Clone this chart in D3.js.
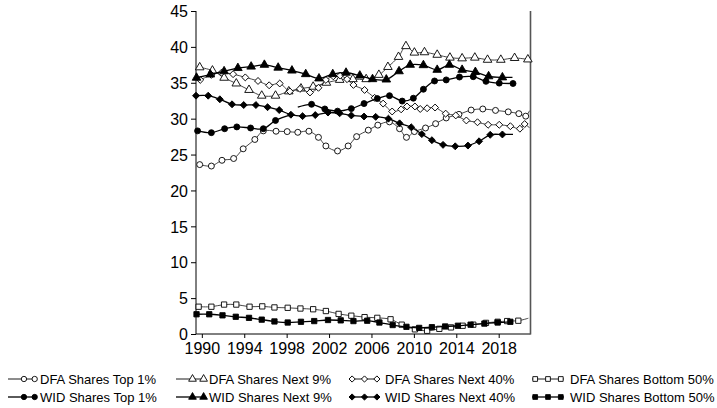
<!DOCTYPE html>
<html>
<head>
<meta charset="utf-8">
<script src="https://cdn.jsdelivr.net/npm/d3@7"></script>
<style>
  body { margin: 0; background: #fff; }
  svg { display: block; font-family: Arial, "Liberation Sans", sans-serif; }
</style>
</head>
<body>
<svg id="chart" width="717" height="408"></svg>
<script>
// marker points: [year, share %]
const dfaTop1 = [[1989.8,23.6],[1990.9,23.4],[1991.9,24.2],[1993.0,24.45],[1993.9,25.8],[1995.0,27.1],[1995.8,28.3],[1997.0,28.25],[1998.05,28.2],[1999.05,28.1],[2000.1,28.25],[2001.0,27.4],[2001.7,26.2],[2002.8,25.5],[2003.8,26.2],[2004.6,27.5],[2005.7,28.4],[2006.6,29.1],[2007.7,29.55],[2008.65,28.6],[2009.3,27.4],[2010.05,28.2],[2011.1,28.7],[2012.05,29.3],[2013.05,30.1],[2014.25,30.6],[2015.4,31.2],[2016.5,31.35],[2017.7,31.15],[2018.9,30.95],[2019.9,30.7],[2020.55,30.35]]
const dfaTop1End = [2020.9, 31.1]

const dfaNext9 = [[1989.8,37.15],[1991.0,36.7],[1992.1,35.7],[1993.25,34.9],[1994.45,34.0],[1995.65,33.2],[1996.95,33.2],[1998.2,33.8],[1999.35,34.2],[2000.5,34.45],[2001.75,35.0],[2003.0,35.4],[2004.25,35.5],[2005.5,35.5],[2006.7,36.1],[2007.55,37.2],[2008.55,38.6],[2009.25,40.1],[2010.05,39.2],[2011.0,39.25],[2012.2,38.9],[2013.4,38.5],[2014.55,38.4],[2015.75,38.5],[2016.95,38.2],[2018.2,38.2],[2019.5,38.45],[2020.75,38.25]]

const dfaNext40 = [[1989.85,35.4],[1990.9,36.1],[1991.85,36.4],[1992.95,36.2],[1994.1,35.75],[1995.3,35.25],[1996.35,34.65],[1997.35,34.9],[1998.3,33.8],[1999.25,34.15],[2000.2,33.65],[2001.0,34.3],[2001.7,35.4],[2002.4,35.9],[2003.05,36.0],[2003.7,35.5],[2004.3,34.7],[2005.35,34.0],[2006.3,32.9],[2007.1,32.1],[2007.95,31.0],[2008.8,31.3],[2009.35,31.7],[2010.1,31.7],[2010.6,31.35],[2011.25,31.45],[2012.0,31.55],[2013.0,30.7],[2013.95,30.45],[2014.95,29.75],[2016.0,29.5],[2017.0,29.15],[2018.05,29.15],[2019.1,28.95],[2020.0,28.6],[2020.45,29.25]]
const dfaNext40End = [2020.9, 28.7]

const dfaBottom50 = [[1989.7,3.8],[1990.9,3.8],[1992.1,4.1],[1993.25,4.1],[1994.5,3.8],[1995.7,3.85],[1996.85,3.7],[1998.1,3.65],[1999.3,3.55],[2000.5,3.45],[2001.7,3.2],[2002.9,2.8],[2004.1,2.55],[2005.35,2.35],[2006.55,2.25],[2007.8,2.05],[2008.85,1.3],[2010.1,0.65],[2011.25,0.45],[2012.4,0.72],[2013.5,0.92],[2014.6,1.15],[2015.6,1.3],[2016.8,1.55],[2017.9,1.7],[2018.8,1.8],[2019.85,1.85]]
const dfaBottom50End = [2020.8, 2.2]

// WID top 1% has a break around 1998-99
const widTop1Early = [[1989.6,28.3],[1990.9,28.05],[1992.15,28.6],[1993.3,28.85],[1994.6,28.7],[1995.8,28.6],[1996.95,29.75]]
const widTop1EarlyEnd = [1998.5, 30.55]
const widTop1LateStart = [1999.05, 31.6]
const widTop1Late = [[2000.35,32.0],[2001.6,31.35],[2002.8,31.05],[2004.1,31.4],[2005.3,32.1],[2006.55,32.8],[2007.7,33.2],[2008.9,32.45],[2009.95,32.85],[2010.9,34.1],[2011.95,35.25],[2013.05,35.4],[2014.3,35.8],[2015.6,35.85],[2016.8,35.2],[2018.05,34.95],[2019.35,34.9]]

const widNext9 = [[1989.5,35.7],[1990.8,36.15],[1992.1,36.6],[1993.4,37.05],[1994.65,37.25],[1995.9,37.5],[1997.2,37.1],[1998.5,36.7],[1999.8,36.2],[2001.05,35.6],[2002.35,36.2],[2003.6,36.4],[2004.9,36.0],[2006.1,35.5],[2007.4,35.45],[2008.6,36.6],[2009.65,37.5],[2010.9,37.45],[2012.2,36.8],[2013.35,37.5],[2014.55,36.8],[2015.8,36.5],[2017.05,35.9],[2018.35,35.75]]
const widNext9End = [2019.3, 35.75]

const widNext40 = [[1989.45,33.2],[1990.6,33.2],[1991.7,32.7],[1992.85,32.0],[1993.95,31.9],[1995.1,31.9],[1996.2,31.6],[1997.3,31.2],[1998.4,30.55],[1999.5,30.35],[2000.7,30.5],[2001.9,30.85],[2003.0,30.75],[2004.1,30.45],[2005.3,30.3],[2006.4,30.25],[2007.6,30.0],[2008.65,29.35],[2009.75,28.8],[2010.75,27.85],[2011.7,27.0],[2012.75,26.35],[2013.9,26.15],[2015.1,26.25],[2016.15,26.85],[2017.2,27.75],[2018.35,27.8]]
const widNext40End = [2019.35, 27.8]

const widBottom50 = [[1989.5,2.75],[1990.7,2.75],[1991.95,2.6],[1993.2,2.4],[1994.45,2.25],[1995.65,2.0],[1996.85,1.75],[1998.1,1.6],[1999.35,1.7],[2000.6,1.8],[2001.9,1.95],[2003.1,1.9],[2004.3,1.8],[2005.6,1.85],[2006.75,1.6],[2008.0,1.25],[2009.3,1.0],[2010.5,0.85],[2011.7,0.95],[2012.95,1.05],[2014.15,1.15],[2015.35,1.3],[2016.65,1.45],[2017.9,1.6],[2019.1,1.7]]

const xTicks = [1990, 1994, 1998, 2002, 2006, 2010, 2014, 2018]
const yTicks = [0, 5, 10, 15, 20, 25, 30, 35, 40, 45]

const legendLabels = ['DFA Shares Top 1%', 'DFA Shares Next 9%', 'DFA Shares Next 40%', 'DFA Shares Bottom 50%',
  'WID Shares Top 1%', 'WID Shares Next 9%', 'WID Shares Next 40%', 'WID Shares Bottom 50%']

let svg = d3.select('#chart'),
    plotL = 196, plotR = 530.5, plotT = 11, plotB = 334

let x = d3.scaleLinear().domain([1989.45, 2021]).range([plotL, plotR])
let y = d3.scaleLinear().domain([0, 45]).range([plotB, plotT])

// shape + size per marker kind
let shapes = {
  circle: {type: d3.symbolCircle, size: 28, rot: 0},
  triangle: {type: d3.symbolTriangle, size: 32, rot: 0},
  diamond: {type: d3.symbolSquare, size: 24, rot: 45},
  square: {type: d3.symbolSquare, size: 28, rot: 0}
}

let series = [
  {pts: dfaTop1, end: dfaTop1End, shape: 'circle', filled: false},
  {pts: dfaNext9, shape: 'triangle', filled: false},
  {pts: dfaNext40, end: dfaNext40End, shape: 'diamond', filled: false},
  {pts: dfaBottom50, end: dfaBottom50End, shape: 'square', filled: false},
  {pts: widTop1Early, end: widTop1EarlyEnd, shape: 'circle', filled: true},
  {pts: widTop1Late, start: widTop1LateStart, shape: 'circle', filled: true},
  {pts: widNext9, end: widNext9End, shape: 'triangle', filled: true},
  {pts: widNext40, end: widNext40End, shape: 'diamond', filled: true},
  {pts: widBottom50, shape: 'square', filled: true}
]

let line = d3.line()
  .x(d => x(d[0]))
  .y(d => y(d[1]))
  .curve(d3.curveCatmullRom.alpha(0.5))

let symbolPath = (shape, scale) => {
  let s = shapes[shape]
  return d3.symbol().type(s.type).size(s.size * (scale || 1))()
}

let drawMarker = (g, shape, filled, cx, cy, scale) => {
  g.append('path')
    .attr('d', symbolPath(shape, scale))
    .attr('transform', `translate(${cx},${cy}) rotate(${shapes[shape].rot})`)
    .attr('fill', filled ? '#000' : '#fff')
    .attr('stroke', '#000')
    .attr('stroke-width', 0.9)
}

// axes
let yAxis = svg.append('g')
  .attr('transform', `translate(${plotL},0)`)
  .call(d3.axisLeft(y).tickValues(yTicks).tickSize(5).tickPadding(3))
let xAxis = svg.append('g')
  .attr('transform', `translate(0,${plotB})`)
  .call(d3.axisBottom(x).tickValues(xTicks).tickFormat(d3.format('d')).tickSize(4).tickPadding(5))

yAxis.select('.domain').attr('d', `M0,${plotT}V${plotB}`)
xAxis.select('.domain').attr('d', `M${plotL},0H${plotR}`)
svg.selectAll('.tick text').attr('font-size', 16).attr('fill', '#000')
  .attr('font-family', 'Arial, "Liberation Sans", sans-serif')
yAxis.selectAll('.tick text').attr('dy', '0.36em')

// right frame edge
svg.append('line')
  .attr('x1', plotR).attr('x2', plotR)
  .attr('y1', plotT).attr('y2', plotB + 0.5)
  .attr('stroke', '#555').attr('stroke-width', 1.6)

let plot = svg.append('g')

series.forEach(s => {
  let linePts = (s.start ? [s.start] : []).concat(s.pts, s.end ? [s.end] : [])
  plot.append('path')
    .attr('d', line(linePts))
    .attr('fill', 'none')
    .attr('stroke', s.filled ? '#000' : '#333')
    .attr('stroke-width', s.filled ? 1.3 : 0.9)
  let mg = plot.append('g')
  s.pts.forEach(p => drawMarker(mg, s.shape, s.filled, x(p[0]), y(p[1])))
})

// legend, two rows of four
let legendShapes = ['circle', 'triangle', 'diamond', 'square']
let colX = [8, 176, 349, 532],
    symW = [29, 30, 31, 32],
    textX = [40, 209, 385, 570],
    rowY = [379, 397]

legendLabels.forEach((label, i) => {
  let col = i % 4, row = Math.floor(i / 4),
      filled = row === 1,
      shape = legendShapes[col],
      g = svg.append('g'),
      x0 = colX[col], yy = rowY[row],
      w = symW[col],
      marks = (shape === 'diamond' || shape === 'square') ? [0.1, 0.5, 0.9] : [0.55, 0.92]

  g.append('line')
    .attr('x1', x0).attr('x2', x0 + w)
    .attr('y1', yy).attr('y2', yy)
    .attr('stroke', '#000').attr('stroke-width', filled ? 1.3 : 0.9)
  marks.forEach(m => drawMarker(g, shape, filled, x0 + w * m, yy, 0.8))

  g.append('text')
    .attr('x', textX[col])
    .attr('y', yy + 4.5)
    .attr('font-size', 13)
    .attr('fill', '#000')
    .text(label)
})
</script>
</body>
</html>
